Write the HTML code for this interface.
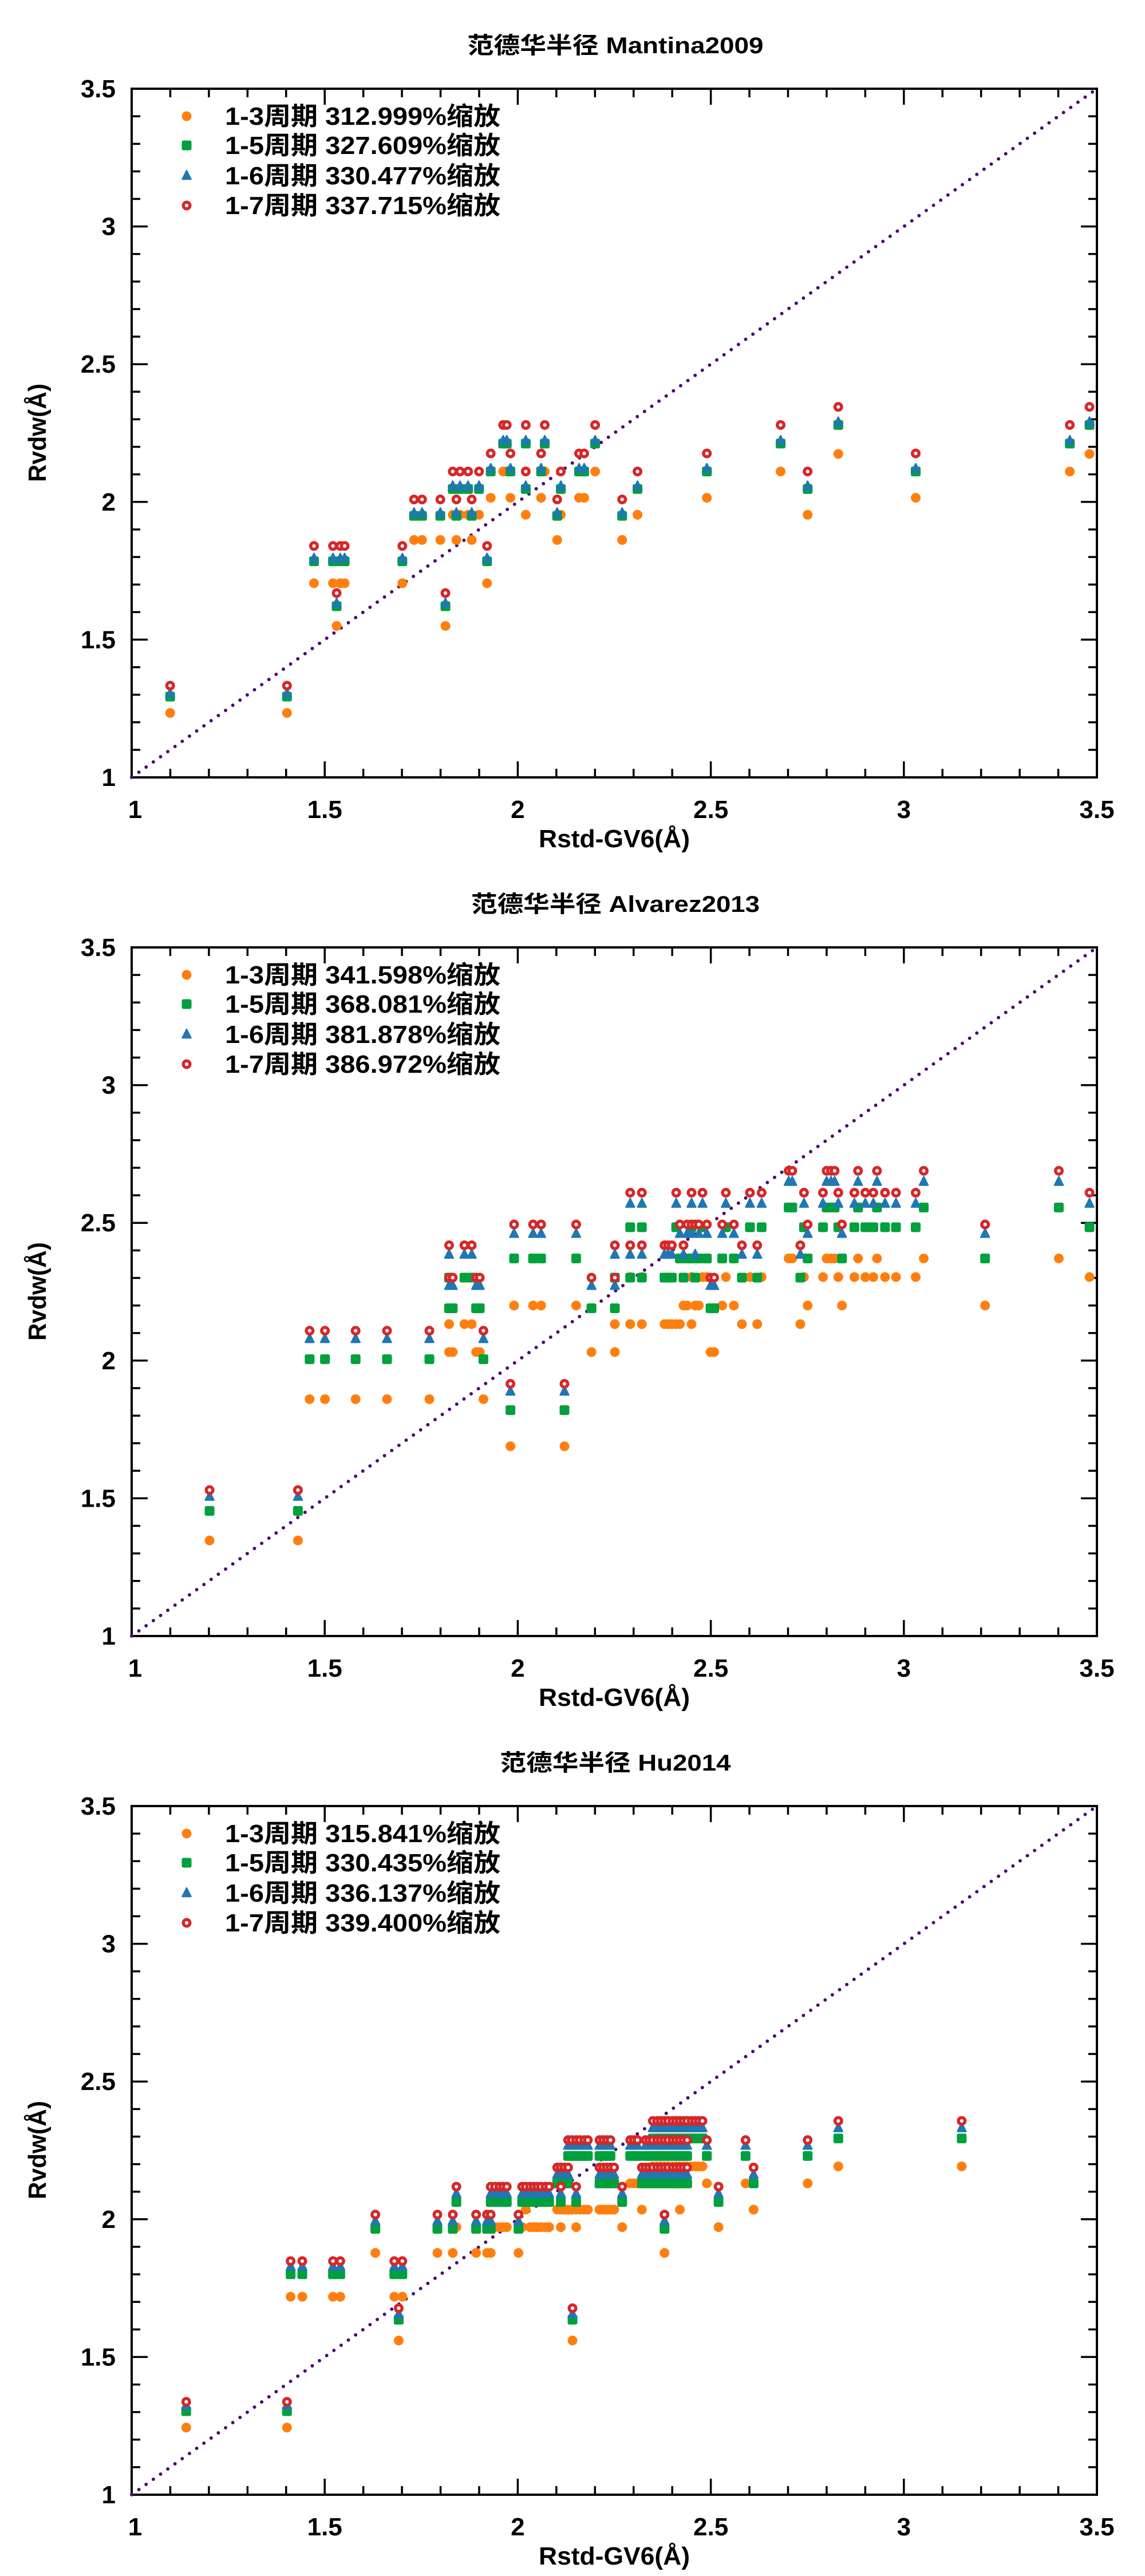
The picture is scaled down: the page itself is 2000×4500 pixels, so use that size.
<!DOCTYPE html>
<html><head><meta charset="utf-8"><style>
html,body{margin:0;padding:0;background:#fff;}
svg{display:block;}
text{font-family:"Liberation Sans Narrow","Liberation Sans","Noto Sans CJK SC",sans-serif;font-weight:bold;fill:#000;}
</style></head><body>
<svg id="s" width="2000" height="4500" viewBox="0 0 2000 4500" xmlns="http://www.w3.org/2000/svg"></svg>
<script>
const S=document.getElementById('s');
const sx=2000/1568, sy=1500/1568;
let out='';
const L=230,R=1916,T=155,B=1358;
function xd(v){return L+(v-1)/2.5*(R-L);}
function yd(v,off){return off+B-(v-1)/2.5*(B-T);}
const panels=[
 {title:'范德华半径 Mantina2009',tw:517,leg:['1-3周期 312.999%缩放','1-5周期 327.609%缩放','1-6周期 330.477%缩放','1-7周期 337.715%缩放'],
  pts:[[233,1302,1272,1252],[393,1302,1272,1252],[430,1065,1025,997],[456,1065,1025,997],[461,1143,1107,1083],[466,1065,1025,997],[472,1065,1025,997],[551,1065,1025,997],[567,986,942,912],[578,986,942,912],[603,986,942,912],[610,1143,1107,1083],[620,940,893,861],[625,986,942,912],[630,940,893,861],[641,940,893,861],[646,986,942,912],[656,940,893,861],[667,1065,1025,997],[672,909,861,828],[689,861,810,776],[694,861,810,776],[699,909,861,828],[720,940,893,861],[720,861,810,776],[741,909,861,828],[746,861,810,776],[763,986,942,912],[768,940,893,861],[793,909,861,828],[800,909,861,828],[815,861,810,776],[852,986,942,912],[873,940,893,861],[968,909,861,828],[1069,861,810,776],[1106,940,893,861],[1148,829,776,743],[1254,909,861,828],[1465,861,810,776],[1492,829,776,743]]},
 {title:'范德华半径 Alvarez2013',tw:504,leg:['1-3周期 341.598%缩放','1-5周期 368.081%缩放','1-6周期 381.878%缩放','1-7周期 386.972%缩放'],
  pts:[[287,1245,1191,1165,1153],[408,1245,1191,1165,1153],[424,987,914,877,862],[445,987,914,877,862],[487,987,914,877,862],[530,987,914,877,862],[588,987,914,877,862],
  [615,901,821,780,765],[615,850,765,723,706],[620,901,821,780,765],[636,850,765,723,706],[646,850,765,723,706],[652,901,821,780,765],[657,901,821,780,765],[662,987,914,877,862],
  [699,1073,1007,973,959],[704,816,730,685,668],[730,816,730,685,668],[741,816,730,685,668],[773,1073,1007,973,959],[789,816,730,685,668],[810,901,821,780,765],[842,901,821,780,765],[842,850,765,723,706],
  [863,850,765,723,706],[863,764,673,630,610],[879,850,765,723,706],[879,764,673,630,610],[910,850,765,723,706],[915,850,765,723,706],[920,850,765,723,706],[926,850,673,630,610],[931,850,730,685,668],
  [936,816,765,723,706],[941,816,730,685,668],[947,850,730,685,668],[947,764,673,630,610],[952,816,765,723,668],[957,816,730,685,668],[962,764,673,630,610],[968,764,730,685,668],
  [973,901,821,780,765],[978,901,821,780,765],[989,816,730,685,668],[994,764,673,630,610],[1005,816,730,685,668],[1016,850,765,723,706],[1027,764,673,630,610],[1037,850,765,723,706],[1043,764,673,630,610],
  [1080,730,637,590,570],[1085,730,637,590,570],[1096,850,765,723,706],[1101,764,673,630,610],[1106,816,730,685,668],[1127,764,673,630,610],[1132,730,637,590,570],[1138,730,637,590,570],[1143,730,637,590,570],[1148,764,673,630,610],[1153,816,730,685,668],
  [1170,764,673,630,610],[1175,730,637,590,570],[1185,764,673,630,610],[1196,764,673,630,610],[1201,730,637,590,570],[1212,764,673,630,610],[1227,764,673,630,610],[1254,764,673,630,610],[1265,730,637,590,570],
  [1349,816,730,685,668],[1450,730,637,590,570],[1492,764,673,630,610]]},
 {title:'范德华半径 Hu2014',tw:403,leg:['1-3周期 315.841%缩放','1-5周期 330.435%缩放','1-6周期 336.137%缩放','1-7周期 339.400%缩放'],
  pts:(function(){const p=[[255,1297,1267,1257,1250],[393,1297,1267,1257,1250],[398,1058,1017,1003,993],[414,1058,1017,1003,993],[456,1058,1017,1003,993],[466,1058,1017,1003,993],[514,978,934,920,908],[540,1058,1017,1003,993],[551,1058,1017,1003,993],[546,1138,1100,1090,1079],[599,978,934,920,908],[620,978,934,920,908],[625,931,885,870,857],[652,978,934,920,908],[667,978,934,920,908],[672,978,934,920,908],[710,978,934,920,908],[768,931,885,870,857],[784,1138,1100,1090,1079],[789,931,885,870,857],[852,931,885,870,857],[879,899,851,835,822],[910,978,934,920,908],[931,899,851,835,822],[968,851,801,782,772],[984,931,885,870,857],[1021,851,801,782,772],[1032,899,851,835,822],[1106,851,801,782,772],[1148,820,769,750,737],[1317,820,769,750,737]];
   [672,678,684,689,694].forEach(x=>p.push([x,931,885,870,857]));
   [715,720,726,731,736,741,747,752].forEach(x=>p.push([x,x==720?899:931,885,870,857]));
   [763,768,773,778].forEach(x=>p.push([x,899,851,835,822]));
   [778,783,789,794,800,805,821,826,831,836].forEach(x=>p.push([x,899,801,782,772]));
   [821,826,831,836,841].forEach(x=>p.push([x,899,851,835,822]));
   [863,868,873].forEach(x=>p.push([x,851,801,782,772]));
   [884,889,894,900,905,910,915,921,926,931,936,941].forEach(x=>{p.push([x,851,851,835,822]);p.push([x,851,801,782,772]);});
   [894,900,905,910,915,921,926,931,936,941,947,952,957,962].forEach(x=>p.push([x,820,769,750,737]));
   return p;})()}
];
function tx(s,x,y,extra){return `<text x="${x}" y="${y}" ${extra||''}>${s}</text>`;}
function mO(x,y){return `<circle cx="${x}" cy="${y}" r="8.5" fill="#ff7f0e"/>`;}
function mG(x,y){return `<rect x="${x-8.5}" y="${y-8.5}" width="17" height="17" rx="3" fill="#00a03c"/>`;}
function mB(x,y){return `<polygon points="${x},${y-9} ${x+7.5},${y+6} ${x-7.5},${y+6}" fill="#1f77b4" stroke="#1f77b4" stroke-width="2.5" stroke-linejoin="round"/>`;}
function mR(x,y){return `<circle cx="${x}" cy="${y}" r="5.8" fill="#fff" stroke="#d62728" stroke-width="5.4"/>`;}
panels.forEach((P,i)=>{
 const off=i*1500;
 out+=tx(P.title,1075,off+93,`text-anchor="middle" font-size="40" textLength="${P.tw}" lengthAdjust="spacingAndGlyphs"`);
 for(let k=0;k<=25;k++){
   const v=1+k*0.1, maj=(k%5==0), len=maj?28:15;
   const X=xd(v), Y=yd(v,off);
   if(k>0&&k<25){
   out+=`<line x1="${X}" y1="${off+B}" x2="${X}" y2="${off+B-len}" stroke="#000" stroke-width="3.5"/>`;
   out+=`<line x1="${X}" y1="${off+T}" x2="${X}" y2="${off+T+len}" stroke="#000" stroke-width="3.5"/>`;
   out+=`<line x1="${L}" y1="${Y}" x2="${L+len}" y2="${Y}" stroke="#000" stroke-width="3.5"/>`;
   out+=`<line x1="${R}" y1="${Y}" x2="${R-len}" y2="${Y}" stroke="#000" stroke-width="3.5"/>`;}
   if(maj){
     const lab=(Math.round(v*10)/10).toString();
     out+=tx(lab,202,Y+15,`text-anchor="end" font-size="44"`);
     out+=tx(lab,X+(k==0?6:0),off+1429,`text-anchor="middle" font-size="44"`);
   }
 }
 out+=`<rect x="${L}" y="${off+T}" width="${R-L}" height="${B-T}" fill="none" stroke="#000" stroke-width="4"/>`;
 out+=`<line x1="${L}" y1="${off+B}" x2="${R}" y2="${off+T}" stroke="#4b0a6e" stroke-width="6" stroke-linecap="round" stroke-dasharray="0 15.5"/>`;
 out+=tx('Rstd-GV6(Å)',1073,off+1480,`text-anchor="middle" font-size="44" textLength="264" lengthAdjust="spacingAndGlyphs"`);
 out+=`<text transform="translate(80,${off+756}) rotate(-90)" text-anchor="middle" font-size="44" textLength="172" lengthAdjust="spacingAndGlyphs">Rvdw(Å)</text>`;
 const O=[],G=[],Bl=[],Rd=[];
 P.pts.forEach(q=>{
   const X=q[0]*sx; let o,g,b,r;
   if(q.length==4){o=q[1];g=q[2];b=q[2]-5;r=q[3];}else{o=q[1];g=q[2];b=q[3];r=q[4];}
   O.push([X,o*sy+off]);G.push([X,g*sy+off]);Bl.push([X,b*sy+off]);Rd.push([X,r*sy+off]);
 });
 O.forEach(p=>out+=mO(p[0],p[1]));
 G.forEach(p=>out+=mG(p[0],p[1]));
 Bl.forEach(p=>out+=mB(p[0],p[1]));
 Rd.forEach(p=>out+=mR(p[0],p[1]));
 const ly=[203,254,307,359], mx=326;
 out+=mO(mx,off+ly[0])+mG(mx,off+ly[1])+mB(mx,off+ly[2])+mR(mx,off+ly[3]);
 P.leg.forEach((s,j)=>{out+=tx(s,393,off+ly[j]+15,`font-size="44" textLength="481" lengthAdjust="spacingAndGlyphs"`);});
});
S.innerHTML=out;
</script>
</body></html>
